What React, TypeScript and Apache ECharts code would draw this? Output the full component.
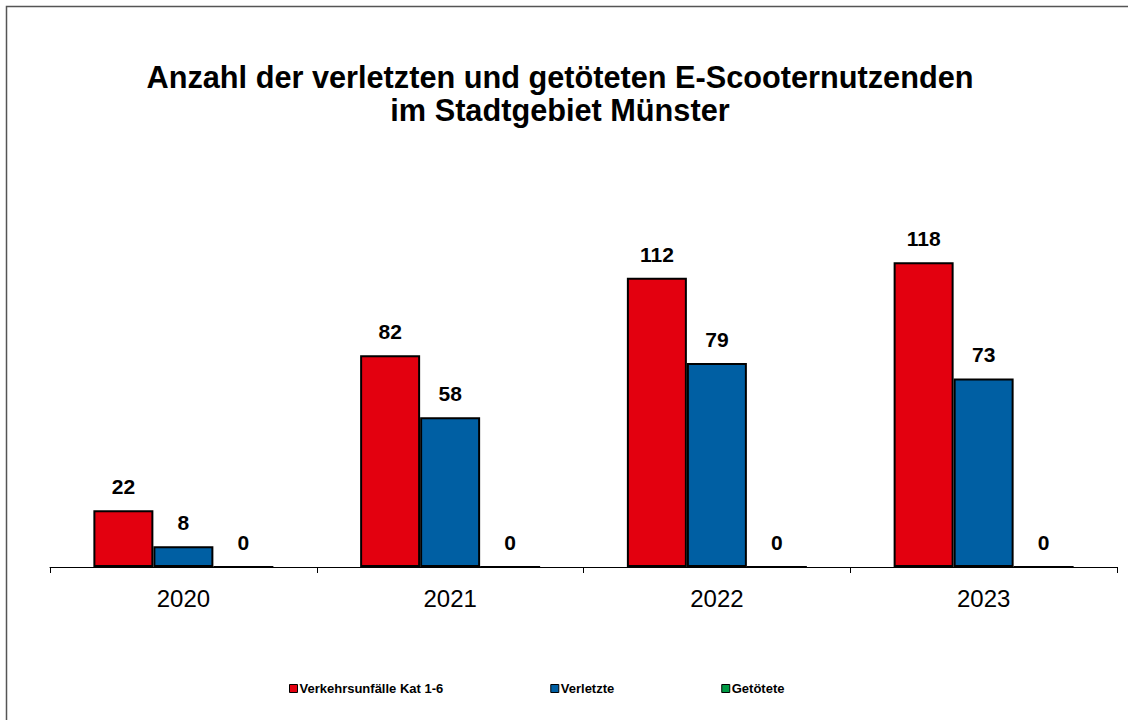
import React, { useEffect, useRef } from "react";
import * as echarts from "echarts";

const categories = ["2020", "2021", "2022", "2023"];
const unfaelle = [22, 82, 112, 118];
const verletzte = [8, 58, 79, 73];
const getoetete = [0, 0, 0, 0];
const seriesNames = ["Verkehrsunfälle Kat 1-6", "Verletzte", "Getötete"];
const titleLines = ["Anzahl der verletzten und getöteten E-Scooternutzenden", "im Stadtgebiet Münster"];

export default function App() {
  const ref = useRef<HTMLDivElement>(null);
  useEffect(() => {
    document.body.style.margin = "0";
    const chart = echarts.init(ref.current!, null, { renderer: "svg" });
    const label = {
      show: true,
      position: "top" as const,
      distance: 13,
      fontFamily: "Arial, Liberation Sans, sans-serif",
      fontWeight: "bold" as const,
      fontSize: 21,
      color: "#000",
    };
    const mk = (name: string, data: number[], color: string) => ({
      name,
      type: "bar" as const,
      data,
      barWidth: 60,
      barGap: "0%",
      itemStyle: { color, borderColor: "#000", borderWidth: 2 },
      label,
    });
    chart.setOption({
      animation: false,
      backgroundColor: "#fff",
      title: {
        text: titleLines.join("\n"),
        left: 555,
        top: 56,
        textAlign: "center",
        textStyle: {
          fontFamily: "Arial, Liberation Sans, sans-serif",
          fontWeight: "bold",
          fontSize: 30.7,
          lineHeight: 33,
          color: "#000",
        },
      },
      graphic: [
        {
          type: "polyline",
          shape: { points: [[6.5, 720], [6.5, 6.5], [1128, 6.5]] },
          style: { fill: "none", stroke: "#555", lineWidth: 1.5 },
          silent: true,
        },
      ],
      legend: {
        left: 284,
        top: 677,
        itemWidth: 8,
        itemHeight: 8,
        itemGap: 107,
        icon: "rect",
        textStyle: {
          fontFamily: "Arial, Liberation Sans, sans-serif",
          fontWeight: "bold",
          fontSize: 13,
          color: "#000",
          padding: [0, 0, 0, -3],
        },
        itemStyle: { borderColor: "#000", borderWidth: 1 },
        data: seriesNames,
      },
      grid: { left: 50, right: 11, top: 257, bottom: 153 },
      xAxis: {
        type: "category",
        data: categories,
        axisLine: { lineStyle: { color: "#000", width: 1 } },
        axisTick: { show: true, length: 6, lineStyle: { color: "#000" } },
        axisLabel: {
          margin: 19,
          fontFamily: "Arial, Liberation Sans, sans-serif",
          fontSize: 24,
          color: "#000",
        },
      },
      yAxis: {
        type: "value",
        min: 0,
        max: 120,
        show: false,
        splitLine: { show: false },
      },
      series: [
        mk(seriesNames[0], unfaelle, "#E3000F"),
        mk(seriesNames[1], verletzte, "#005FA3"),
        mk(seriesNames[2], getoetete, "#009A44"),
      ],
    });
    return () => chart.dispose();
  }, []);
  return <div ref={ref} style={{ width: 1128, height: 720 }} />;
}
